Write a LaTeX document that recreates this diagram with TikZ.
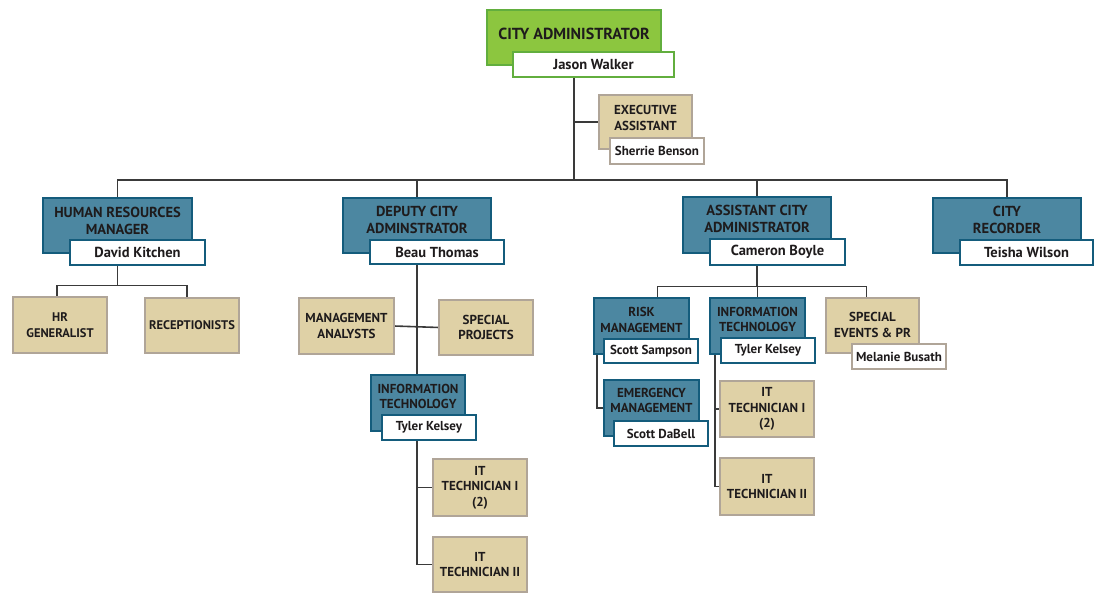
\documentclass[tikz,border=0pt]{standalone}
\usepackage{fontspec}
\setmainfont{PT Sans}
\pgfdeclarelayer{background}
\pgfsetlayers{background,main}
\definecolor{gfill}{HTML}{8CC63F}
\definecolor{gline}{HTML}{62AE3E}
\definecolor{bfill}{HTML}{4C87A1}
\definecolor{bline}{HTML}{145C7C}
\definecolor{tfill}{HTML}{DFD1A6}
\definecolor{tline}{HTML}{B0A598}
\definecolor{conn}{HTML}{3A3A3A}
\definecolor{ink}{HTML}{1E1B1C}
\tikzset{
  box/.style={draw, line width=2.4pt, inner sep=0pt, outer sep=0pt, text=ink, align=center},
  green/.style={box, fill=gfill, draw=gline},
  blue/.style={box, fill=bfill, draw=bline},
  tan/.style={box, fill=tfill, draw=tline},
  nmg/.style={box, fill=white, draw=gline},
  nmb/.style={box, fill=white, draw=bline},
  nmt/.style={box, fill=white, draw=tline},
  ttlT/.style={text=ink, align=center, inner sep=0pt, font=\bfseries\fontsize{16}{18}\selectfont},
  ttlA/.style={text=ink, align=center, inner sep=0pt, font=\bfseries\fontsize{14.5}{17}\selectfont},
  ttlB/.style={text=ink, align=center, inner sep=0pt, font=\bfseries\fontsize{13}{15.5}\selectfont},
  fA/.style={font=\bfseries\fontsize{14.5}{17}\selectfont},
  fB/.style={font=\bfseries\fontsize{13}{15.5}\selectfont},
  fC/.style={font=\bfseries\fontsize{12.5}{15.5}\selectfont},
  link/.style={draw=conn, line width=1.6pt},
}
% title box whose text sits in its upper part
\newcommand\tbox[9]{\node[#2, anchor=north west,
  minimum width={(#5-#3-2.4)*1pt}, minimum height={(#6-#4-2.4)*1pt},
  label={[#8, anchor=center, yshift={-(#7-1.2)*1pt}]north:#9}] (#1) at ({#3+1.2},{#4+1.2}) {};}
% box with centred text
\newcommand\cbox[7]{\node[#2, anchor=north west,
  minimum width={(#5-#3-2.4)*1pt}, minimum height={(#6-#4-2.4)*1pt}] (#1) at ({#3+1.2},{#4+1.2}) {#7};}
\begin{document}
\begin{tikzpicture}[x=1pt,y=-1pt]
\useasboundingbox (0,0) rectangle (1095,596);
\coordinate (busy) at (0,180);
\coordinate (hrbusy) at (0,285.5);
\coordinate (abusy) at (0,286.5);
% top
\tbox{ca}{green}{486}{9}{662}{66}{25}{ttlT}{CITY ADMINISTRATOR}
\cbox{jw}{nmg,fA}{512}{51}{675}{78}{Jason Walker}
\tbox{ea}{tan}{598}{94}{693}{150}{24}{ttlB}{EXECUTIVE\\ASSISTANT}
\cbox{sb}{nmt,fB}{609}{137}{705}{165}{Sherrie Benson}
% second level
\tbox{hr}{blue}{42}{197}{193}{254}{23.5}{ttlA}{HUMAN RESOURCES\\MANAGER}
\cbox{dk}{nmb,fA}{69}{239}{206}{266}{David Kitchen}
\tbox{dep}{blue}{342}{197}{492}{254}{22.5}{ttlA}{DEPUTY CITY\\ADMINSTRATOR}
\cbox{bt}{nmb,fA}{369}{239}{505}{265}{Beau Thomas}
\tbox{asst}{blue}{682}{196}{832}{254}{22.5}{ttlA}{ASSISTANT CITY\\ADMINISTRATOR}
\cbox{cb}{nmb,fA}{709}{238}{846}{266}{Cameron Boyle}
\tbox{rec}{blue}{932}{197}{1082}{254}{23}{ttlA}{CITY\\RECORDER}
\cbox{tw}{nmb,fA}{959}{239}{1094}{266}{Teisha Wilson}
% HR
\cbox{hrg}{tan,fC}{12}{296}{108}{354}{HR\\GENERALIST}
\cbox{rcp}{tan,fC}{144}{297}{240}{354}{RECEPTIONISTS}
% Deputy
\cbox{ma}{tan,fB}{298}{297}{395}{355}{MANAGEMENT\\ANALYSTS}
\cbox{sp}{tan,fB}{438}{299}{534}{356}{SPECIAL\\PROJECTS}
\tbox{dit}{blue}{370}{374}{466}{432}{22.5}{ttlB}{INFORMATION\\TECHNOLOGY}
\cbox{tk1}{nmb,fB}{381}{414}{477}{441}{Tyler Kelsey}
\cbox{it1}{tan,fB}{432}{458}{528}{517}{IT\\TECHNICIAN I\\(2)}
\cbox{it2}{tan,fB}{432}{536}{528}{593}{IT\\TECHNICIAN II}
% Assistant
\tbox{risk}{blue}{593}{297}{690}{355}{23}{ttlB}{RISK\\MANAGEMENT}
\cbox{ss}{nmb,fB}{603}{338}{699}{364}{Scott Sampson}
\tbox{em}{blue}{603}{379}{700}{437}{21.5}{ttlB}{EMERGENCY\\MANAGEMENT}
\cbox{sd}{nmb,fB}{613}{420}{709}{447}{Scott DaBell}
\tbox{ait}{blue}{709}{297}{806}{355}{22.5}{ttlB}{INFORMATION\\TECHNOLOGY}
\cbox{tk2}{nmb,fB}{720}{337}{816}{364}{Tyler Kelsey}
\cbox{it1b}{tan,fB}{719}{380}{815}{438}{IT\\TECHNICIAN I\\(2)}
\cbox{it2b}{tan,fB}{719}{457}{815}{516}{IT\\TECHNICIAN II}
\tbox{se}{tan}{825}{297}{920}{354}{28}{ttlB}{SPECIAL\\EVENTS \& PR}
\cbox{mb}{nmt,fB}{851}{343}{947}{370}{Melanie Busath}
\coordinate (aitl) at ([xshift=5pt]ait.south west);
\coordinate (riskl) at ([xshift=3pt]risk.south west);
% ---------- connectors ----------
\begin{pgfonlayer}{background}
\draw[link] (ca.south) -- (ca.south |- busy);
\draw[link] (ea.west) -- (ea.west -| ca.south);
\draw[link] (hr.north) -- (hr.north |- busy) -- (rec.north |- busy) -- (rec.north);
\draw[link] (dep.north) -- (dep.north |- busy);
\draw[link] (asst.north) -- (asst.north |- busy);
% HR
\draw[link] (hr.south) -- (hr.south |- hrbusy);
\draw[link] ([xshift=-3pt]hrg.north) -- ([xshift=-3pt]hrg.north |- hrbusy)
  -- ([xshift=-5pt]rcp.north |- hrbusy) -- ([xshift=-5pt]rcp.north);
% Deputy
\draw[link] (ma.east) -- (sp.west);
\draw[link] (dep.south) -- (dep.south |- it2.west) -- (it2.west);
\draw[link] (it1.west) -- (it1.west -| dep.south);
% Assistant
\draw[link] (asst.south) -- (asst.south |- abusy);
\draw[link] ([xshift=16pt]risk.north) -- ([xshift=16pt]risk.north |- abusy)
  -- ([xshift=-6pt]se.north |- abusy) -- ([xshift=-6pt]se.north);
\draw[link] (ait.north) -- (ait.north |- abusy);
\draw[link] (riskl) |- (em.west);
\draw[link] (aitl) |- (it2b.west);
\draw[link] (it1b.west) -- (it1b.west -| aitl);
\end{pgfonlayer}
\end{tikzpicture}
\end{document}
